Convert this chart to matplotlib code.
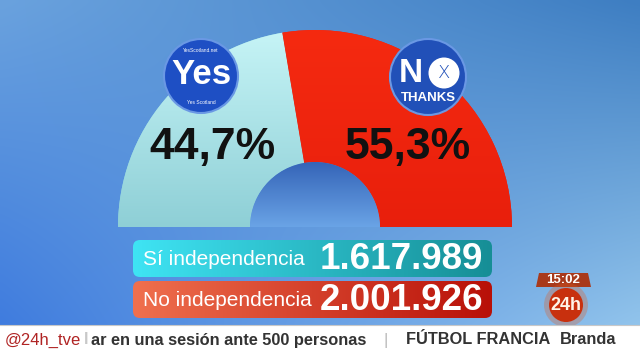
import numpy as np
import matplotlib.pyplot as plt
from matplotlib.patches import Circle, FancyBboxPatch, Polygon, Rectangle
from matplotlib.colors import to_rgb

# referendum results
shares = [44.7, 55.3]
share_labels = ['44,7%', '55,3%']
bar_labels = ['Sí independencia', 'No independencia']
vote_labels = ['1.617.989', '2.001.926']

# tv overlay texts
clock = '15:02'
channel = '24h'
handle = '@24h_tve'
ticker_items = ['ar en una sesión ante 500 personas', 'FÚTBOL FRANCIA', 'Branda']

W, H = 640, 360
SANS = ['Liberation Sans', 'DejaVu Sans']


def rgb(c):
    return np.array(to_rgb(c))


def hgrad(c0, c1, n=200):
    t = np.linspace(0, 1, n)[None, :, None]
    return (1 - t) * rgb(c0) + t * rgb(c1)


def vgrad(c0, c1, n=200):
    t = np.linspace(0, 1, n)[:, None, None]
    return (1 - t) * rgb(c0) + t * rgb(c1)


fig = plt.figure(figsize=(6.4, 3.6), dpi=100)

# background gradient
bg = fig.add_axes([0, 0, 1, 1], zorder=0)
yy, xx = np.mgrid[0:1:90j, 0:1:160j]
tl, tr, bl, br = [rgb(c) for c in ('#6aa2de', '#3e7ec2', '#3b78de', '#9acbf0')]
img = (((1 - xx) * (1 - yy))[..., None] * tl + (xx * (1 - yy))[..., None] * tr
       + ((1 - xx) * yy)[..., None] * bl + (xx * yy)[..., None] * br)
bg.imshow(img, extent=(0, W, H, 0), aspect='auto', interpolation='bicubic')
bg.set_xlim(0, W)
bg.set_ylim(H, 0)
bg.axis('off')

# half donut
cx, cy, R, r_in = 315, 227, 197, 65
pie = fig.add_axes([(cx - R) / W, 1 - (cy + R) / H, 2 * R / W, 2 * R / H], zorder=1)
wedges, _ = pie.pie(shares + [sum(shares)], colors=['#8fd8e0', '#ef1d0a', 'none'],
                    startangle=180, counterclock=False, radius=1,
                    wedgeprops=dict(width=1 - r_in / R, linewidth=0))
for w, (c0, c1) in zip(wedges[:2], [('#c6f4f6', '#56aab6'), ('#f52a10', '#dc1408')]):
    im = pie.imshow(vgrad(c0, c1), extent=(-1, 1, -1, 1), aspect='auto', zorder=2)
    im.set_clip_path(w)
# shaded hole
hole = Circle((0, 0), r_in / R, fc='none', ec='none')
pie.add_patch(hole)
k = r_in / R
im = pie.imshow(vgrad('#3564b8', '#6aa4e6'), extent=(-k, k, 0, k), aspect='auto', zorder=2)
im.set_clip_path(hole)
pie.set_xlim(-1, 1)
pie.set_ylim(-1, 1)
pie.set_aspect('equal')
pie.axis('off')

# overlay in pixel coordinates
ov = fig.add_axes([0, 0, 1, 1], zorder=2)
ov.set_xlim(0, W)
ov.set_ylim(H, 0)
ov.axis('off')
ov.patch.set_alpha(0)

for x, lab in zip([212, 408], share_labels):
    ov.text(x, 148, lab, ha='center', va='center', fontsize=32, fontweight='bold',
            family=SANS, color='#111111')

# badges
ov.add_patch(Circle((201, 76), 37, fc='#1e4fc4', ec='#6a98e4', lw=1.5))
ov.text(201, 75, 'Yes', ha='center', va='center', fontsize=25, fontweight='bold',
        family=SANS, color='white')
ov.text(201, 51, 'YesScotland.net', ha='center', va='center', fontsize=3.5, color='white', family=SANS)
ov.text(201, 102, 'Yes Scotland', ha='center', va='center', fontsize=3.5, color='white', family=SANS)

ov.add_patch(Circle((428, 77), 38, fc='#2150b8', ec='#6a98e4', lw=1.5))
ov.text(411, 74, 'N', ha='center', va='center', fontsize=24, fontweight='bold',
        family=SANS, color='white')
ov.add_patch(Circle((444, 73), 15.5, fc='white', ec='none'))
ov.text(444, 73, 'X', ha='center', va='center', fontsize=13, family='DejaVu Sans',
        fontweight='light', color='#2150b8')
ov.text(428, 98, 'THANKS', ha='center', va='center', fontsize=9.5, fontweight='bold',
        family=SANS, color='white')

# vote count bars
bars = [(240, 277, '#3fe4f4', '#168e96'), (281, 318, '#f0704e', '#b81008')]
for (y0, y1, c0, c1), lab, val in zip(bars, bar_labels, vote_labels):
    box = FancyBboxPatch((133, y0), 359, y1 - y0, boxstyle='round,pad=0,rounding_size=7',
                         fc='none', ec='none')
    ov.add_patch(box)
    im = ov.imshow(hgrad(c0, c1)[:2], extent=(133, 492, y1, y0), aspect='auto')
    im.set_clip_path(box)
    yc = (y0 + y1) / 2 + 1
    ov.text(143, yc, lab, ha='left', va='center', fontsize=15, family=SANS, color='white')
    ov.text(483, yc, val, ha='right', va='center', fontsize=26.5, fontweight='bold',
            family=SANS, color='white')
ov.set_xlim(0, W)
ov.set_ylim(H, 0)

# clock and channel logo
ov.add_patch(Polygon([(539, 273), (588, 273), (591, 287), (536, 287)], fc='#a83a1c', ec='none'))
ov.text(563, 280, clock, ha='center', va='center', fontsize=9.5, fontweight='bold',
        family=SANS, color='white')
ov.add_patch(Circle((566, 305), 22, fc='#e05a20', ec='none', alpha=0.3))
ov.add_patch(Circle((566, 305), 17, fc='#c8300e', ec='none'))
ov.text(566, 305, channel, ha='center', va='center', fontsize=13, fontweight='bold',
        family=SANS, color='#fff4e8')

# ticker
ov.add_patch(Rectangle((0, 325), W, 35, fc='white', ec='none'))
ov.plot([0, W], [325, 325], color='#c8c8c8', lw=0.8)
ov.text(5, 340, handle, ha='left', va='center', fontsize=12, family=SANS, color='#b02424')
ov.text(84, 340, 'l', ha='left', va='center', fontsize=12, fontweight='bold',
        family=SANS, color='#c8c8c8')
for x, t in zip([91, 406, 560], ticker_items):
    ov.text(x, 340, t, ha='left', va='center', fontsize=11.8, fontweight='bold',
            family=SANS, color='#333333')
ov.text(386, 340, '|', ha='center', va='center', fontsize=12, family=SANS, color='#bbbbbb')

fig.savefig('out.png', dpi=100)
